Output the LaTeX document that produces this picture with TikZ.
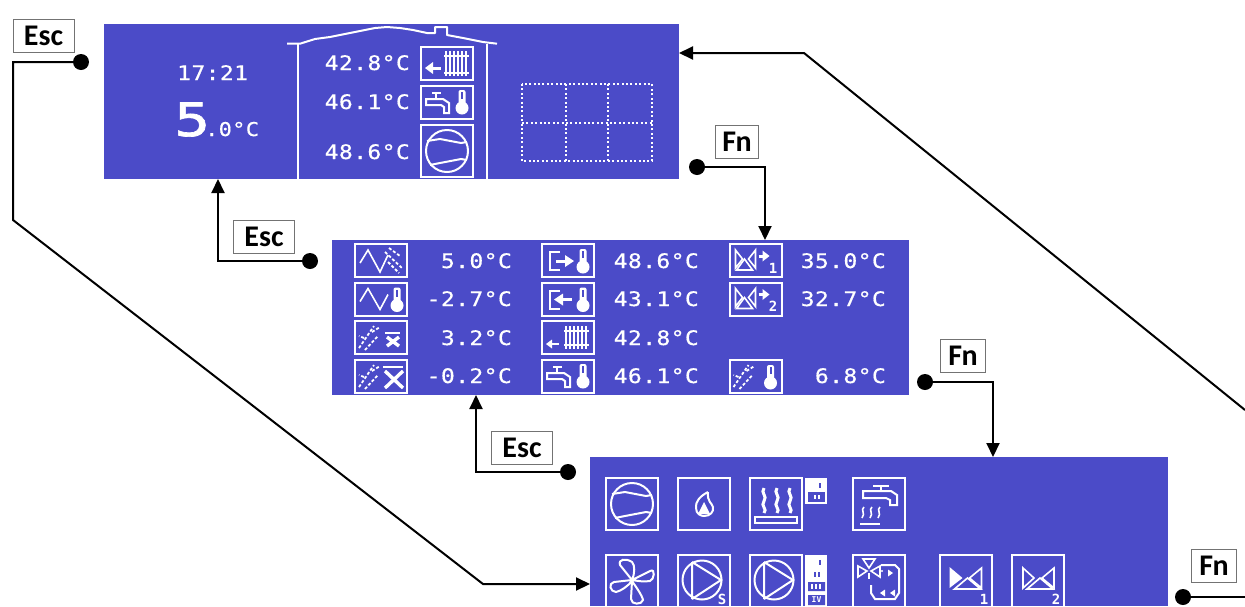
\documentclass[tikz,border=0pt]{standalone}
\usepackage{fontspec}
\usetikzlibrary{arrows.meta}
\newfontfamily\lcdbase[FakeStretch=1.15,LetterSpace=2,FakeBold=0.5]{DejaVu Sans Mono}
\newfontfamily\lcdbig[FakeStretch=1.3,FakeBold=1.5]{DejaVu Sans Mono}
\newfontfamily\lcdplain{DejaVu Sans Mono}
\newfontfamily\keyfont{Carlito}
\definecolor{panelblue}{HTML}{4B4BC8}
\newcommand{\lcd}{\lcdbase\fontsize{20}{24}\selectfont}
\newcommand{\lcdtiny}{\lcdplain\bfseries\fontsize{14}{14}\selectfont}
\tikzset{
  x=1pt,y=-1pt,
  panel/.style={fill=panelblue,draw=none,inner sep=0,outer sep=0,anchor=north west},
  val/.style={text=white,inner sep=0,anchor=base east,font=\lcd},
  valL/.style={text=white,inner sep=0,anchor=base west,font=\lcd},
  keybox/.style={fill=white,draw=black!55,line width=1pt,inner sep=0,font=\keyfont\bfseries\fontsize{30}{32}\selectfont,text=black,minimum height=33},
  dot/.style={circle,fill=black,inner sep=0,minimum size=16,outer sep=0},
  conn/.style={draw=black,line width=2pt,line join=miter},
  arr/.style={conn,-{Triangle[length=14pt,width=13pt]}},
  ic/.style={draw=white,line width=2pt},
  ict/.style={draw=white,line width=1.6pt},
  dashy/.style={draw=white,line width=1.8pt,dash pattern=on 3pt off 2pt},
  fat/.style={draw=white,line width=3.4pt},
  frameS/.pic={\draw[ic] (0,0) rectangle (52,33);},
  frameL/.pic={\draw[ic] (0,0) rectangle (52,52);},
  thermo/.pic={\fill[white] (0,18) circle (6.5);\fill[white,rounded corners=2pt] (-3.5,0) rectangle (3.5,16);\fill[panelblue] (-1,2) rectangle (1,9);},
  frostL/.pic={
    \draw[dashy] (4,27)--(19,5);
    \draw[dashy] (10,29)--(23,15);
    \draw[dashy] (17,11)--(25,6);
    \draw[dashy] (9,17)--(4,15);},
  iwavefrost/.pic={\pic{frameS};
    \draw[ict] (5,19)--(13,6)--(25,28)--(33,11);
    \draw[dashy] (30,8)--(48,25);\draw[dashy] (33,18)--(44,29);\draw[dashy] (34,4)--(45,12);},
  iwavetherm/.pic={\pic{frameS};
    \draw[ict] (5,19)--(13,6)--(25,27)--(33,12);
    \pic at (42,5) {thermo};},
  ifrostxs/.pic={\pic{frameS};\pic{frostL};
    \draw[ic] (30,12)--(45,12);
    \draw[fat] (32,16)--(44,25) (44,16)--(32,25);},
  ifrostxl/.pic={\pic{frameS};\pic{frostL};
    \draw[ic] (28,7)--(48,7);
    \draw[fat] (30,11)--(48,28) (48,11)--(30,28);},
  ifrosttherm/.pic={\pic{frameS};\pic{frostL};\pic at (41,5) {thermo};},
  ibrout/.pic={\pic{frameS};
    \draw[ic] (18,8)--(8,8)--(8,26)--(18,26);
    \draw[line width=3pt,draw=white] (14,17)--(24,17);
    \fill[white] (32,17)--(23,11)--(23,23)--cycle;
    \pic at (41,5) {thermo};},
  ibrin/.pic={\pic{frameS};
    \draw[ic] (18,8)--(8,8)--(8,26)--(18,26);
    \draw[line width=3pt,draw=white] (20,17)--(30,17);
    \fill[white] (12,17)--(21,11)--(21,23)--cycle;
    \pic at (41,5) {thermo};},
  irad/.pic={\pic{frameS};
    \foreach \xx in {24,28,32,36,40,44}{\draw[ict] (\xx,5)--(\xx,28);}
    \draw[ict] (22,10)--(47,10) (22,24)--(47,24);
    \draw[line width=2.4pt,draw=white] (9,23)--(17,23);
    \fill[white] (4,23)--(10,18.5)--(10,27.5)--cycle;},
  iradTop/.pic={\pic{frameS};
    \foreach \xx in {25,29,33,37,41,45}{\draw[ict] (\xx,4)--(\xx,29);}
    \draw[ict] (23,9)--(48,9) (23,26)--(48,26);
    \draw[line width=3pt,draw=white] (11,21)--(20,21);
    \fill[white] (4,21)--(12,15)--(12,27)--cycle;},
  itap/.pic={\pic{frameS};
    \draw[ic] (5,13)--(22,13)--(28,17)--(28,27)--(23,27)--(23,21)--(20,19)--(5,19)--cycle;
    \draw[ic] (11,7)--(20,7) (15,7)--(15,13);
    \pic at (41,4) {thermo};},
  ivalvearrow/.pic={\pic{frameS};
    \draw[ict] (6,6)--(13,15)--(6,24)--cycle;
    \draw[ict] (26,6)--(19,15)--(26,24)--cycle;
    \draw[ict] (15,15)--(7,26)--(23,26)--cycle;
    \draw[line width=3pt,draw=white] (29,12)--(35,12);
    \fill[white] (40,12)--(33,6.5)--(33,17.5)--cycle;},
  icomp/.pic={\pic{frameL};
    \draw[ic] (26,26) circle (21);
    \draw[ic] (6,16)--(19,14)--(40,18)--(46,17);
    \draw[ic] (9,40)--(19,38)--(40,34)--(46,35);},
  iflame/.pic={\pic{frameL};
    \draw[ic] (30,14) .. controls (22,18) and (17,24) .. (18,30) .. controls (18,36) and (23,38) .. (26,38) .. controls (32,38) and (36,34) .. (35,29) .. controls (34,25) and (29,24) .. (30,14);
    \fill[white] (26,24)--(32,36)--(20,36)--cycle;},
  iwave/.pic={\draw[line width=3pt,draw=white] (0,0) .. controls (-4,5) and (4,8) .. (0,13) .. controls (-4,18) and (4,21) .. (0,25);},
  ifloor/.pic={\pic{frameL};
    \pic at (14,10) {iwave};\pic at (27,10) {iwave};\pic at (40,10) {iwave};
    \draw[ic] (5,39) rectangle (47,45);},
  itapheat/.pic={\pic{frameL};
    \draw[ic] (10,13)--(38,13)--(44,17)--(44,27)--(37,27)--(37,22)--(33,20)--(10,20)--cycle;
    \draw[ic] (20,8)--(36,8) (28,8)--(28,13);
    \foreach \xx in {9,17,25}{\draw[ict] (\xx+2,29) .. controls (\xx-2,32) and (\xx+4,35) .. (\xx,40);}
    \draw[ic] (7,46)--(27,46);},
  ismall/.pic={\fill[white] (0,0) rectangle (22,26);
    \draw[panelblue,line width=1.8pt] (15,5)--(15,10);
    \fill[panelblue] (3,14) rectangle (20,24);
    \draw[white,line width=1.8pt] (10,17)--(10,21) (14,17)--(14,21);},
  ismallB/.pic={\fill[white] (0,0) rectangle (22,52);
    \draw[panelblue,line width=1.8pt] (15,5)--(15,10) (10,17)--(10,22) (14,17)--(14,22);
    \fill[panelblue] (3,27) rectangle (20,36) (3,40) rectangle (20,50);
    \draw[white,line width=1.6pt] (7,29)--(7,34) (11,29)--(11,34) (15,29)--(15,34);
    \node[text=white,inner sep=0,font=\lcdplain\bfseries\fontsize{8}{8}\selectfont] (ivtext) at (11.5,45) {IV};},
  ifan/.pic={\pic{frameL};
    \draw[ic] (26,25)--(14,10) .. controls (12,4) and (20,3) .. (26,7) .. controls (29,10) and (29,18) .. (26,25)
      --(44,16) .. controls (50,13) and (48,25) .. (44,26) .. controls (38,27) and (32,26) .. (26,25)
      --(8,27) .. controls (2,28) and (4,37) .. (10,37) .. controls (15,36) and (22,31) .. (26,26)
      --(25,44) .. controls (25,50) and (36,50) .. (37,45) .. controls (36,40) and (30,32) .. (26,26);},
  ipumpcore/.pic={\draw[ic] (24,25) circle (19.5);
    \draw[ic] (14,7)--(14,44) (14,7)--(43,25)--(14,44);},
  ipump/.pic={\pic{frameL};\pic{ipumpcore};},
  ipumpS/.pic={\pic{frameL};\pic{ipumpcore};
    \node[text=white,inner sep=0,font=\lcdtiny] (stext) at (44,44) {S};},
  iloop/.pic={\pic{frameL};
    \draw[ict] (10,4)--(22,4)--(16,13)--cycle;
    \draw[ict] (5,11)--(5,22)--(14,16)--cycle;
    \draw[ict] (27,11)--(27,22)--(18,16)--cycle;
    \draw[ic] (16,18)--(16,24);
    \draw[ic] (28,10)--(42,10)--(46,14)--(46,38)--(42,44)--(22,44)--(18,38)--(18,30);
    \fill[white] (40,18)--(35,14.5)--(35,21.5)--cycle (29,16) circle (1.2);
    \fill[white] (27,38)--(32,34.5)--(32,41.5)--cycle (37,38)--(42,34.5)--(42,41.5)--cycle;},
  ivalvecore/.pic={
    \draw[ict] (42,13)--(30,23)--(42,33)--cycle;
    \draw[ict] (28,23)--(15,34)--(41,34)--cycle;},
  ivalve1/.pic={\pic{frameL};\pic{ivalvecore};
    \fill[white] (10,12)--(10,33)--(23,23)--cycle;},
  ivalve2/.pic={\pic{frameL};\pic{ivalvecore};
    \draw[ict] (11,13)--(11,33)--(22,23)--cycle;},
}
\begin{document}
\begin{tikzpicture}
\path[use as bounding box,clip] (0,0) rectangle (1245,606);

% panels
\node[panel,minimum width=575,minimum height=155] (p1) at (104,24) {};
\node[panel,minimum width=577,minimum height=155] (p2) at (332,240) {};
\node[panel,minimum width=578,minimum height=149] (p3) at (590,457) {};

% panel 1
\node[valL] (t1721) at (177,80) {17:21};
\node[text=white,inner sep=0,anchor=base west,font=\lcdbig\fontsize{46}{50}\selectfont] (bigfive) at (174,136) {5};
\node[valL,font=\lcdbase\fontsize{19}{22}\selectfont] (bigrest) at (205,136) {.0°C};
\draw[ic,line join=bevel] (287,43.7)--(300,43.7)--(315,39)--(330,37)--(345,34)--(360,31)--(375,28)--(387,27)--(400,28)--(413,30)--(427,33)--(435,33)--(435,27)--(447,27)--(447,35)--(463,38)--(483,42)--(497,43.7);
\draw[ic] (297.5,43.7)--(297.5,179) (486.7,43.7)--(486.7,179);
\node[val] (a1) at (410,70) {42.8°C};
\node[val] (a2) at (410,109) {46.1°C};
\node[val] (a3) at (410,159) {48.6°C};
\pic at (421,47) {iradTop};
\pic at (421,86) {itap};
\pic at (421,125) {icomp};
\draw[white,line width=2pt,dash pattern=on 2pt off 2.4pt] (522,84) rectangle (652,161) (566,84)--(566,161) (608,84)--(608,161) (522,123)--(652,123);

% panel 2
\pic at (355,244) {iwavefrost};
\pic at (355,282.5) {iwavetherm};
\pic at (355,321) {ifrostxs};
\pic at (355,360) {ifrostxl};
\pic at (542,244) {ibrout};
\pic at (542,282.5) {ibrin};
\pic at (542,321) {irad};
\pic at (542,360) {itap};
\pic at (729.5,244) {ivalvearrow};
\node[text=white,inner sep=0,font=\lcdtiny] (sub1) at (773,268) {1};
\pic at (729.5,282.5) {ivalvearrow};
\node[text=white,inner sep=0,font=\lcdtiny] (sub2) at (773,306) {2};
\pic at (729.5,360) {ifrosttherm};
\node[val] (b1) at (512,268) {5.0°C};
\node[val] (b2) at (512,306) {-2.7°C};
\node[val] (b3) at (512,345) {3.2°C};
\node[val] (b4) at (512,383) {-0.2°C};
\node[val] (c1) at (699,268) {48.6°C};
\node[val] (c2) at (699,306) {43.1°C};
\node[val] (c3) at (699,345) {42.8°C};
\node[val] (c4) at (699,383) {46.1°C};
\node[val] (d1) at (886,268) {35.0°C};
\node[val] (d2) at (886,306) {32.7°C};
\node[val] (d4) at (886,383) {6.8°C};

% panel 3
\pic at (606,478) {icomp};
\pic at (678,478) {iflame};
\pic at (750,478) {ifloor};
\pic at (805,478) {ismall};
\pic at (853,478) {itapheat};
\pic at (606,555) {ifan};
\pic at (678,555) {ipumpS};
\pic at (750,555) {ipump};
\pic at (805,555) {ismallB};
\pic at (853,555) {iloop};
\pic at (939.5,555) {ivalve1};
\node[text=white,inner sep=0,font=\lcdtiny] (sub3) at (984,599) {1};
\pic at (1012,555) {ivalve2};
\node[text=white,inner sep=0,font=\lcdtiny] (sub4) at (1056,599) {2};

% key labels
\node[keybox,minimum width=61] (esc1) at (43.5,36) {Esc};
\node[keybox,minimum width=61] (esc2) at (264,237) {Esc};
\node[keybox,minimum width=61] (esc3) at (522,448) {Esc};
\node[keybox,minimum width=43] (fn1) at (737,142) {Fn};
\node[keybox,minimum width=45] (fn2) at (963,356) {Fn};
\node[keybox,minimum width=45] (fn3) at (1214,566) {Fn};

% dots and way points
\node[dot] (de1) at (81,62) {};
\node[dot] (de2) at (310,261) {};
\node[dot] (de3) at (568,472) {};
\node[dot] (df1) at (697,167) {};
\node[dot] (df2) at (925,382) {};
\node[dot] (df3) at (1183,597) {};
\coordinate (e1a) at (13,62);
\coordinate (e1b) at (13,220);
\coordinate (e1c) at (483,584);
\coordinate (e1d) at (590,584);
\coordinate (e2a) at (218,261);
\coordinate (e2b) at (218,179);
\coordinate (e3a) at (476,472);
\coordinate (e3b) at (476,395);
\coordinate (f1a) at (765,167);
\coordinate (f1b) at (765,240);
\coordinate (f2a) at (993,382);
\coordinate (f2b) at (993,457);
\coordinate (f3a) at (1245,597);
\coordinate (r0) at (1245,410);
\coordinate (r1) at (804,53);
\coordinate (r2) at (679,53);

% connectors
\draw[arr] (de1) -- (e1a) -- (e1b) -- (e1c) -- (e1d);
\draw[arr] (de2) -- (e2a) -- (e2b);
\draw[arr] (de3) -- (e3a) -- (e3b);
\draw[arr] (df1) -- (f1a) -- (f1b);
\draw[arr] (df2) -- (f2a) -- (f2b);
\draw[conn] (df3) -- (f3a);
\draw[arr] (r0) -- (r1) -- (r2);
\end{tikzpicture}
\end{document}
